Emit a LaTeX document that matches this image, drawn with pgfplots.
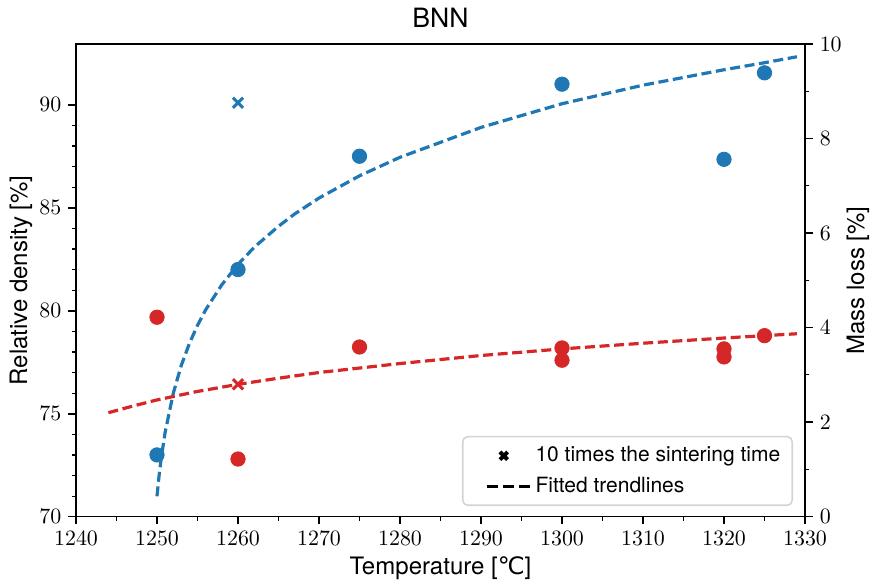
\documentclass[border=0pt]{standalone}
\usepackage{pgfplots}
\pgfplotsset{compat=1.18}
\usepackage{fontspec}
\setmainfont{TeX Gyre Heros}
\newfontfamily\dejavu{DejaVu Sans}
\definecolor{tabblue}{HTML}{1F77B4}
\definecolor{tabred}{HTML}{D62728}
\pgfplotsset{
  legx/.style={legend image code/.code={\path[draw=none,fill=none] (0cm,0cm) -- (1.04cm,0cm);\draw[##1] plot coordinates {(0.58cm,0cm)};}},
  legl/.style={legend image code/.code={\path[draw=none,fill=none] (0cm,0cm) -- (1.04cm,0cm);\draw[##1] (0.28cm,0cm) -- (1.04cm,0cm);}},
  common/.style={
    width=364.5pt, height=236.35pt, scale only axis,
    xmin=1240, xmax=1330,
    tick align=outside,
    major tick length=3.85pt, minor tick length=2.2pt,
    every tick/.style={black, line width=0.8pt},
    minor tick style={line width=0.6pt},
    axis line style={line width=0.8pt},
    tick label style={font=\fontsize{11}{13}\selectfont},
    label style={font=\fontsize{12}{14}\selectfont},
  },
  mydash/.style={line width=1.6pt, dash pattern=on 5pt off 2.3pt},
}
\begin{document}
\begin{tikzpicture}
\path[use as bounding box] (-38pt,-33.15pt) rectangle (398pt,258.35pt);
\begin{axis}[common,
  ymin=70, ymax=92.95,
  xtick={1240,1250,...,1330}, minor x tick num=1,
  ytick={70,75,80,85,90}, minor y tick num=4,
  xtick pos=bottom, ytick pos=left,
  xticklabel style={/pgf/number format/1000 sep={}},
  xlabel={Temperature [{\dejavu ℃}]},
  ylabel={Relative density [\%]},
  x label style={at={(axis description cs:0.5,0)},anchor=center,yshift=-25.8pt},
  y label style={at={([xshift=-27.5pt]axis description cs:0,0.5)},anchor=center},
  title={BNN},
  title style={at={(axis description cs:0.5,1)},anchor=center,yshift=7pt,font=\fontsize{13.3}{15}\selectfont},
]
\addplot[tabblue, mydash] coordinates {
(1250,70.99) (1250.25,71.97) (1250.5,72.78) (1251,74.09) (1252,75.98) (1253,77.35)
(1254,78.41) (1255,79.29) (1256,80.04) (1258,81.26) (1260,82.25) (1262,83.08)
(1265,84.10) (1267,84.70) (1270,85.47) (1275,86.55) (1280,87.45) (1290,88.90)
(1300,90.05) (1310,90.95) (1320,91.70) (1325,92.04) (1329,92.33)
};
\addplot[only marks, mark=*, mark size=3.6pt, tabblue, draw=none, fill=tabblue] coordinates {
(1250,73.0) (1260,82.0) (1275,87.5) (1300,91.0) (1320,87.35) (1325,91.55)
};
\addplot[only marks, mark=x, mark size=3.6pt, tabblue, line width=1.5pt] coordinates {
(1260,90.1)
};
\end{axis}
\begin{axis}[common,
  ymin=0, ymax=10,
  axis x line=none, axis y line*=right,
  ytick={0,2,...,10}, minor y tick num=1,
  ylabel={Mass loss [\%]},
  y label style={at={([xshift=26.5pt]axis description cs:1,0.5)},anchor=center},
  legend style={at={(axis description cs:1,0)}, anchor=south east, xshift=-6pt, yshift=5.3pt,
    draw=black!17, rounded corners=2.5pt, line width=0.8pt,
    font=\fontsize{10.5}{12.6}\selectfont, row sep=2pt,
    inner xsep=4pt, inner ysep=3pt},
  legend cell align=left,
]
\addplot[tabred, mydash, forget plot] coordinates {
(1244,2.20) (1247,2.34) (1250,2.47) (1255,2.65) (1260,2.80) (1265,2.93) (1270,3.05)
(1280,3.24) (1290,3.41) (1300,3.55) (1310,3.67) (1320,3.78) (1329,3.87)
};
\addplot[only marks, mark=*, mark size=3.6pt, tabred, draw=none, fill=tabred, forget plot] coordinates {
(1250,4.22) (1260,1.22) (1275,3.59) (1300,3.57) (1300,3.31) (1320,3.55) (1320,3.38) (1325,3.83)
};
\addplot[only marks, mark=x, mark size=3.6pt, tabred, line width=1.5pt, forget plot] coordinates {
(1260,2.80)
};
\addlegendimage{only marks, mark=x, black, mark size=2.7pt, line width=2pt, legx}
\addlegendentry{10 times the sintering time}
\addlegendimage{black, line width=1.6pt, dash pattern=on 5.5pt off 2.5pt, legl}
\addlegendentry{Fitted trendlines}
\end{axis}
\end{tikzpicture}
\end{document}
